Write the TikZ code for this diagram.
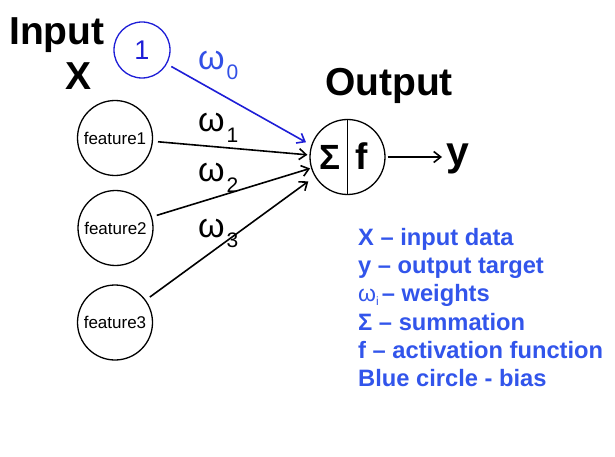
\documentclass[tikz,border=0pt]{standalone}
\usepackage{fontspec}
\setmainfont{Liberation Sans}
\usetikzlibrary{arrows.meta}
\definecolor{biasblue}{RGB}{30,30,215}
\definecolor{wblue}{RGB}{50,80,230}
\definecolor{legblue}{RGB}{50,85,235}
\newcommand{\fs}[1]{\fontsize{#1}{#1}\selectfont}
\newcommand{\wlab}[1]{{\fs{34}ω}\kern2pt\raisebox{-10pt}{\fs{21}#1}}
\begin{document}
\begin{tikzpicture}[x=1pt,y=-1pt,
  neuron/.style={circle,draw,line width=1.3pt,minimum size=75pt,inner sep=0pt},
  biasnode/.style={circle,draw=biasblue,text=biasblue,line width=1.3pt,minimum size=56pt,inner sep=0pt,font=\fs{27}},
  conn/.style={line width=1.6pt,-{Straight Barb[length=7pt,width=11pt,line width=1.6pt]},shorten <=5pt},
  title/.style={font=\fs{39}\bfseries,inner sep=0pt,anchor=base west},
  legend/.style={font=\fs{23.7}\bfseries,text=legblue,inner sep=0pt,anchor=base west},
  wl/.style={inner sep=0pt,anchor=base west}
]
\useasboundingbox[fill=white] (0,0) rectangle (615,457);

\node[title] (input) at (9,45) {Input};
\node[title] (xin) at (65,90) {X};
\node[title,anchor=base] (output) at (389,96) {Output};

\node[biasnode] (b) at (142,50) {1};
\node[neuron,font=\fs{17}] (f1) at (115,138) {feature1};
\node[neuron,font=\fs{17}] (f2) at (115.5,228) {feature2};
\node[neuron,font=\fs{17}] (f3) at (115,322.5) {feature3};

\node[neuron] (out) at (347.5,157) {};
\draw[line width=1.3pt] (out.north) -- (out.south);
\node[inner sep=0pt,anchor=base,font=\fs{35}\bfseries] (sig) at (330,170) {Σ};
\node[inner sep=0pt,anchor=base,font=\fs{37}\bfseries] (fact) at (362,170) {f};
\node[inner sep=0pt,anchor=base west,font=\fs{41}\bfseries] (ylab) at (446,166) {y};

\draw[conn,draw=biasblue,shorten >=6pt,
  -{Straight Barb[length=7pt,width=11pt,line width=1.6pt,color=biasblue]}] (b) -- (out.162);
\draw[conn,shorten >=2pt] (f1) -- (out.177);
\draw[conn,shorten >=1pt] (f2) -- (out.197);
\draw[conn,shorten >=8pt] (f3) -- (out.211);
\draw[conn,shorten <=2pt,shorten >=4pt] (out.east) -- (ylab.west |- out.east);

\node[wl,text=wblue] (w0) at (198,70) {\wlab{0}};
\node[wl] (w1) at (198,132) {\wlab{1}};
\node[wl] (w2) at (198,182) {\wlab{2}};
\node[wl] (w3) at (198,237) {\wlab{3}};

\node[legend] (l1) at (358,245) {X – input data};
\node[legend] (l2) at (358,273.3) {y – output target};
\node[legend] (l3) at (358,301.7) {{\fs{23}\mdseries ω}\raisebox{-4pt}{\fs{12}\mdseries i}\kern3pt– weights};
\node[legend] (l4) at (358,330) {Σ – summation};
\node[legend] (l5) at (358,358.3) {f – activation function};
\node[legend] (l6) at (358,386.7) {Blue circle - bias};
\end{tikzpicture}
\end{document}
